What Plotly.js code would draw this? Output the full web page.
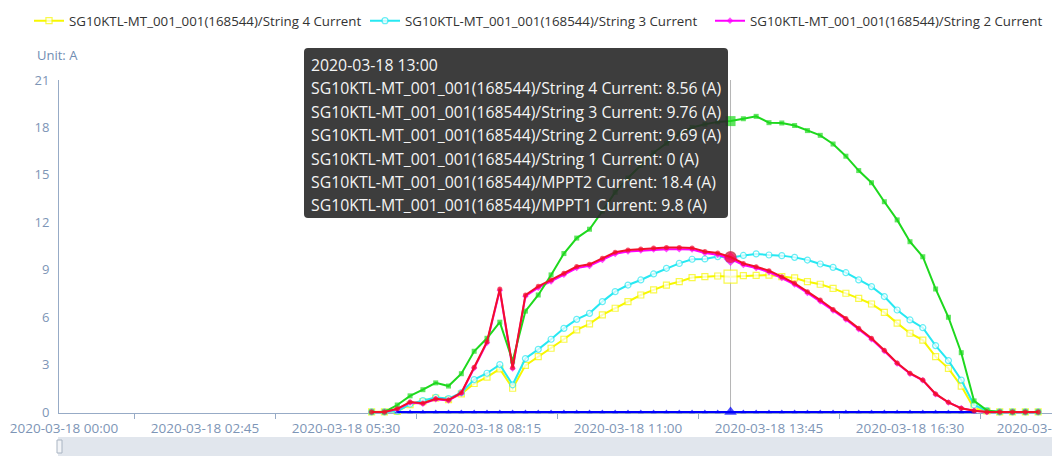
<!DOCTYPE html>
<html><head><meta charset="utf-8">
<script src="https://cdn.plot.ly/plotly-3.0.1.min.js"></script>
<style>html,body{margin:0;padding:0;background:#fff;overflow:hidden}#chart{width:1052px;height:456px}</style>
</head><body><div id="chart"></div>
<script>
const day = '2020-03-18';
const times = ['06:00','06:15','06:30','06:45','07:00','07:15','07:30','07:45','08:00','08:15','08:30','08:45',
  '09:00','09:15','09:30','09:45','10:00','10:15','10:30','10:45','11:00','11:15','11:30','11:45',
  '12:00','12:15','12:30','12:45','13:00','13:15','13:30','13:45','14:00','14:15','14:30','14:45',
  '15:00','15:15','15:30','15:45','16:00','16:15','16:30','16:45','17:00','17:15','17:30','17:45',
  '18:00','18:15','18:30','18:45','19:00'];
const string4 = [0,0,0.04,0.46,0.66,0.88,0.78,1.15,1.8,2.2,2.72,1.5,
  2.95,3.5,4.03,4.6,5.19,5.57,6.14,6.56,6.98,7.4,7.72,8.03,
  8.24,8.5,8.56,8.6,8.56,8.62,8.64,8.66,8.56,8.48,8.24,8.08,
  7.82,7.51,7.19,6.83,6.3,5.62,4.98,4.55,3.5,2.76,1.64,0.23,
  0.06,0,0,0,0];
const string3 = [0,0,0.05,0.5,0.72,0.92,0.85,1.22,2.05,2.45,3.0,1.72,
  3.38,3.96,4.6,5.29,5.86,6.24,6.98,7.61,8.03,8.35,8.73,9.09,
  9.4,9.66,9.68,9.83,9.76,9.9,10.0,9.93,9.89,9.78,9.61,9.36,
  9.15,8.81,8.35,7.93,7.3,6.45,5.82,5.33,4.2,3.25,2.02,0.44,
  0.08,0,0,0,0];
const string2 = [0,0,0.18,0.6,0.52,0.8,0.72,1.18,2.78,4.38,7.7,2.75,
  7.32,7.86,8.26,8.68,9.1,9.24,9.62,10.0,10.15,10.21,10.28,10.3,
  10.3,10.28,10.05,9.95,9.69,9.3,9.1,8.85,8.47,8.06,7.53,7.0,
  6.42,5.85,5.23,4.6,3.85,3.06,2.42,2.0,1.12,0.6,0.24,0.08,
  0,0,0,0,0];
const string1 = [null,null,0,0,0,0,0,0,0,0,0,0,
  0,0,0,0,0,0,0,0,0,0,0,0,
  0,0,0,0,0,0,0,0,0,0,0,0,
  0,0,0,0,0,0,0,0,0,0,0,0,
  null,null,null,null,null];
const mppt2 = [0,0,0.44,1.02,1.41,1.84,1.64,2.42,3.84,4.66,5.68,3.22,
  6.38,7.4,8.67,10.02,11.0,11.56,12.7,13.9,14.8,15.6,16.4,17.0,
  17.6,18.0,18.2,18.35,18.4,18.55,18.7,18.3,18.28,18.12,17.8,17.5,
  16.95,16.18,15.27,14.5,13.3,12.15,10.77,9.82,7.78,5.99,3.75,0.7,
  0.1,0,0,0,0];
const mppt1 = [0,0,0.2,0.63,0.55,0.84,0.76,1.22,2.83,4.45,7.78,2.8,
  7.4,7.95,8.35,8.77,9.2,9.34,9.72,10.1,10.25,10.31,10.38,10.4,
  10.4,10.38,10.15,10.05,9.8,9.4,9.19,8.94,8.56,8.14,7.61,7.08,
  6.49,5.92,5.29,4.66,3.9,3.1,2.45,2.02,1.14,0.61,0.23,0.08,
  0,0,0,0,0];
const prefix = 'SG10KTL-MT_001_001(168544)/';
const seriesNames = ['String 4 Current','String 3 Current','String 2 Current','String 1 Current','MPPT2 Current','MPPT1 Current'];
const xTickTimes = ['00:00','02:45','05:30','08:15','11:00','13:45','16:30','19:15'];
const xMinorTimes = ['01:22:30','04:07:30','06:52:30','09:37:30','12:22:30','15:07:30','17:52:30'];
const yTicks = [0,3,6,9,12,15,18,21];
const unitLabel = 'Unit: A';
const hoverTime = '13:00';

const FONT = 'Open Sans, Noto Sans, sans-serif';
const W = 1052, H = 456, L = 59, R = 0, T = 80, B = 43;
const PW = W - L - R, PH = H - T - B;
const px = x => (x - L) / PW;
const py = y => (H - B - y) / PH;
const xs = times.map(t => day + ' ' + t);
const hi = times.indexOf(hoverTime);

function mk(name, y, color, symbol, small, big, open, legendId, show) {
  const sizes = y.map((v, i) => i === hi ? big : small);
  return {
    type: 'scatter', mode: 'lines+markers', name: prefix + name, x: xs, y: y,
    line: {color: color, width: 2}, connectgaps: false, cliponaxis: false,
    marker: {symbol: symbol, size: sizes, color: open ? '#ffffff' : color,
             line: {color: color, width: open ? 1.2 : 0}},
    legend: legendId, showlegend: show, hoverinfo: 'skip'
  };
}
const series = [string4, string3, string2, string1, mppt2, mppt1];
const traces = [
  mk(seriesNames[0], string4, '#f7f700', 'square', 6, 13, true, 'legend', true),
  mk(seriesNames[1], string3, '#27e8f2', 'circle', 6, 11, true, 'legend2', true),
  mk(seriesNames[2], string2, '#ff00ff', 'diamond', 5, 11, false, 'legend3', true),
  mk(seriesNames[3], string1, '#0000ff', 'triangle-up', 5, 11, false, 'legend', false),
  mk(seriesNames[4], mppt2, '#1ed81e', 'square', 5, 10, false, 'legend', false),
  mk(seriesNames[5], mppt1, '#f2102a', 'circle', 5, 12, false, 'legend', false)
];

function legendAt(xpx) {
  return {xref: 'container', yref: 'container', x: xpx / W, y: 1 - 21 / H,
          xanchor: 'left', yanchor: 'middle', orientation: 'h',
          font: {family: FONT, size: 13.3, color: '#333'}, bgcolor: 'rgba(0,0,0,0)',
          itemsizing: 'trace', itemwidth: 30};
}

// tooltip box (rounded)
const bx0 = 304, bx1 = 728, by0 = 48, by1 = 218, rr = 4;
function roundedPath(x0, x1, y0, y1, r) {
  const P = (x, y) => px(x) + ',' + py(y);
  return 'M' + P(x0 + r, y0) + ' L' + P(x1 - r, y0) + ' Q' + P(x1, y0) + ' ' + P(x1, y0 + r) +
    ' L' + P(x1, y1 - r) + ' Q' + P(x1, y1) + ' ' + P(x1 - r, y1) +
    ' L' + P(x0 + r, y1) + ' Q' + P(x0, y1) + ' ' + P(x0, y1 - r) +
    ' L' + P(x0, y0 + r) + ' Q' + P(x0, y0) + ' ' + P(x0 + r, y0) + ' Z';
}
const tipLines = [day + ' ' + hoverTime].concat(
  seriesNames.map((n, i) => prefix + n + ': ' + series[i][hi] + ' (A)'));
const tipAnn = tipLines.map((t, i) => ({
  xref: 'paper', yref: 'paper', x: px(309), y: py(65 + i * 23.4),
  xanchor: 'left', yanchor: 'middle', showarrow: false, text: t,
  font: {family: FONT, size: 15.8, color: '#f4f4f4'}
}));

const axisColor = '#97abc6';
const labelColor = '#7d95b6';
const layout = {
  width: W, height: H, margin: {l: L, r: R, t: T, b: B, pad: 0},
  paper_bgcolor: '#fff', plot_bgcolor: '#fff', hovermode: false,
  font: {family: FONT},
  xaxis: {
    type: 'date', range: ['2020-03-17 23:54:09', '2020-03-18 19:16:12'],
    tickmode: 'array', tickvals: xTickTimes.map(t => day + ' ' + t),
    tickformat: '%Y-%m-%d %H:%M', ticks: '', showgrid: false, zeroline: false,
    showline: true, linecolor: axisColor, linewidth: 1, layer: 'below traces',
    ticklabeloverflow: 'allow',
    tickfont: {family: FONT, size: 13.5, color: labelColor}, ticklabelstandoff: 3,
    minor: {tickmode: 'array', tickvals: xMinorTimes.map(t => day + ' ' + t),
            ticks: 'outside', ticklen: 5, tickcolor: axisColor, tickwidth: 1, showgrid: false}
  },
  yaxis: {
    range: [-0.065, 21], tickmode: 'array', tickvals: yTicks, ticks: '', showgrid: false,
    zeroline: false, showline: true, linecolor: axisColor, linewidth: 1, layer: 'below traces',
    tickfont: {family: FONT, size: 13, color: labelColor}, ticklabelstandoff: 6
  },
  legend: legendAt(29), legend2: legendAt(365), legend3: legendAt(710),
  shapes: [
    {type: 'line', xref: 'x', yref: 'y', x0: day + ' ' + hoverTime, x1: day + ' ' + hoverTime,
     y0: 0, y1: 21, line: {color: '#b5b5b5', width: 1}, layer: 'below'},
    {type: 'path', xref: 'paper', yref: 'paper', path: roundedPath(bx0, bx1, by0, by1, rr),
     fillcolor: 'rgba(40,40,40,0.9)', line: {width: 0}, layer: 'above'},
    {type: 'rect', xref: 'paper', yref: 'paper', x0: px(58), x1: px(W + 2), y0: py(437), y1: py(H + 2),
     fillcolor: '#e1e6ed', line: {width: 0}, layer: 'above'},
    {type: 'rect', xref: 'paper', yref: 'paper', x0: px(57), x1: px(62), y0: py(440), y1: py(453),
     fillcolor: '#f2f4f7', line: {color: '#a9b4c2', width: 1}, layer: 'above'}
  ],
  annotations: [
    {xref: 'paper', yref: 'paper', x: px(35), y: py(55), xanchor: 'left', yanchor: 'middle',
     showarrow: false, text: unitLabel, font: {family: FONT, size: 13, color: '#6f8db3'}}
  ].concat(tipAnn)
};
Plotly.newPlot('chart', traces, layout, {displayModeBar: false, staticPlot: true});
</script></body></html>
